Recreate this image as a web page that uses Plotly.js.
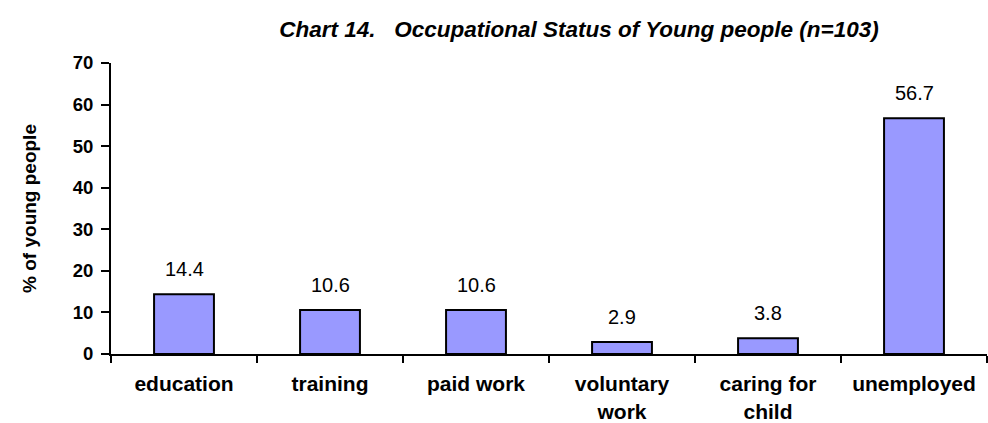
<!DOCTYPE html>
<html><head><meta charset="utf-8">
<script src="https://cdn.plot.ly/plotly-3.0.1.min.js"></script>
<style>html,body{margin:0;padding:0;background:#fff}#chart{width:988px;height:423px}</style>
</head><body><div id="chart"></div>
<script>
const categories = ["education", "training", "paid work", "voluntary<br>work", "caring for<br>child", "unemployed"];
const values = [14.4, 10.6, 10.6, 2.9, 3.8, 56.7];
const valueLabels = ["14.4", "10.6", "10.6", "2.9", "3.8", "56.7"];
const yTicks = [0, 10, 20, 30, 40, 50, 60, 70];

const FONT = "Arial, 'Liberation Sans', sans-serif";
const trace = {
  type: "bar", x: categories, y: values,
  marker: {color: "#9999FF", line: {color: "#000", width: 2}},
  width: 0.41, hoverinfo: "none"
};
const annotations = categories.map((c, i) => ({
  x: c, y: values[i], text: valueLabels[i], showarrow: false,
  yanchor: "bottom", yshift: 12, font: {family: FONT, size: 20, color: "#000"}
}));
const layout = {
  width: 988, height: 423,
  margin: {l: 111, r: 1, t: 63, b: 69},
  paper_bgcolor: "#fff", plot_bgcolor: "#fff",
  showlegend: false,
  title: {
    text: "Chart 14.\u00a0\u00a0\u00a0Occupational Status of Young people (n=103)",
    font: {family: FONT, size: 22.5, weight: "bold", style: "italic", color: "#000"},
    x: 0.586, xanchor: "center", y: 0.931, yanchor: "middle"
  },
  xaxis: {
    type: "category", tickson: "boundaries", ticks: "outside", ticklen: 7, tickwidth: 2, tickcolor: "#000",
    showline: true, linecolor: "#000", linewidth: 2, showgrid: false, zeroline: false,
    tickfont: {family: FONT, size: 21, weight: "bold", color: "#000"},
    range: [-0.5, 5.5], ticklabelstandoff: 10
  },
  yaxis: {
    range: [0, 70], tickvals: yTicks, ticktext: yTicks.map(String),
    ticks: "outside", ticklen: 8, tickwidth: 2, tickcolor: "#000",
    showline: true, linecolor: "#000", linewidth: 2, showgrid: false, zeroline: false,
    tickfont: {family: FONT, size: 18.5, weight: "bold", color: "#000"},
    ticklabelstandoff: 4,
    title: {text: "% of young people", font: {family: FONT, size: 19, weight: "bold", color: "#000"}, standoff: 31}
  },
  annotations: annotations
};
Plotly.newPlot("chart", [trace], layout, {displayModeBar: false, staticPlot: true});
</script></body></html>
